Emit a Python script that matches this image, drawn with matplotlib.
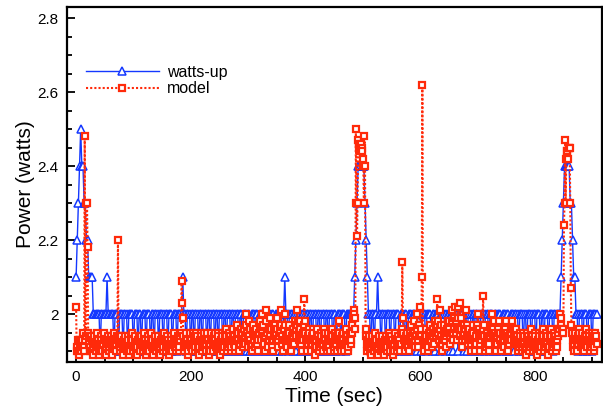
"""
Measured power (watts-up meter) against the power model over a run.
"""

import numpy as np
import matplotlib
matplotlib.use("Agg")
import matplotlib.pyplot as plt
from matplotlib.ticker import MultipleLocator, FormatStrFormatter

plt.rcParams['font.family'] = ['Liberation Sans', 'DejaVu Sans']

# sample spacing (sec)
meter_step = 2
model_step = 1

# watts-up meter reading (watts), one value every 2 sec from t=0
watts_up = [
    2.1, 2.2, 2.3, 2.4, 2.5, 2.4, 2.4, 2.3, 2.3, 2.2, 2.2, 2.1, 2.1, 2.1, 2.1, 2.0, 2.0, 2.0, 2.0, 2.0,
    2.0, 1.9, 2.0, 2.0, 2.0, 2.0, 2.0, 2.1, 2.0, 2.0, 2.0, 2.0, 2.0, 1.9, 2.0, 2.0, 2.0, 1.9, 2.0, 2.0,
    2.0, 1.9, 2.0, 2.0, 2.0, 1.9, 2.0, 2.0, 2.0, 2.0, 1.9, 2.0, 2.0, 2.0, 1.9, 2.0, 2.0, 1.9, 2.0, 2.0,
    2.0, 1.9, 2.0, 2.0, 2.0, 1.9, 2.0, 2.0, 1.9, 2.0, 2.0, 2.0, 1.9, 2.0, 2.0, 2.0, 1.9, 2.0, 2.0, 2.0,
    1.9, 2.0, 2.0, 2.0, 1.9, 2.0, 2.0, 2.0, 1.9, 2.0, 2.0, 2.0, 2.0, 2.1, 2.0, 2.0, 1.9, 2.0, 2.0, 2.0,
    1.9, 2.0, 2.0, 1.9, 2.0, 2.0, 2.0, 1.9, 2.0, 2.0, 1.9, 2.0, 2.0, 2.0, 1.9, 2.0, 2.0, 1.9, 2.0, 2.0,
    2.0, 1.9, 2.0, 2.0, 1.9, 2.0, 2.0, 2.0, 1.9, 2.0, 2.0, 1.9, 2.0, 2.0, 2.0, 1.9, 2.0, 2.0, 1.9, 2.0,
    2.0, 2.0, 1.9, 2.0, 2.0, 1.9, 2.0, 2.0, 2.0, 1.9, 2.0, 2.0, 1.9, 2.0, 2.0, 2.0, 1.9, 2.0, 2.0, 1.9,
    2.0, 2.0, 2.0, 1.9, 2.0, 2.0, 1.9, 2.0, 2.0, 2.0, 1.9, 2.0, 2.0, 1.9, 2.0, 2.0, 2.0, 1.9, 2.0, 2.0,
    1.9, 2.0, 2.1, 2.0, 2.0, 1.9, 2.0, 2.0, 2.0, 1.9, 2.0, 2.0, 1.9, 2.0, 2.0, 2.0, 1.9, 2.0, 2.0, 1.9,
    2.0, 2.0, 2.0, 1.9, 2.0, 2.0, 1.9, 2.0, 2.0, 2.0, 1.9, 2.0, 2.0, 1.9, 2.0, 2.0, 2.0, 1.9, 2.0, 2.0,
    1.9, 2.0, 2.0, 2.0, 1.9, 2.0, 2.0, 1.9, 2.0, 2.0, 2.0, 1.9, 2.0, 2.0, 2.0, 1.9, 2.0, 2.0, 2.0, 2.0,
    2.0, 2.0, 2.0, 2.1, 2.2, 2.3, 2.4, 2.4, 2.4, 2.4, 2.4, 2.4, 2.3, 2.2, 2.1, 2.0, 2.0, 1.9, 2.0, 2.0,
    1.9, 2.0, 2.0, 2.1, 2.0, 2.0, 1.9, 2.0, 2.0, 2.0, 1.9, 2.0, 2.0, 2.0, 1.9, 2.0, 2.0, 2.0, 1.9, 2.0,
    2.0, 2.0, 1.9, 2.0, 2.0, 2.0, 1.9, 2.0, 2.0, 1.9, 2.0, 2.0, 2.0, 1.9, 2.0, 2.0, 2.0, 1.9, 2.0, 2.0,
    2.0, 1.9, 2.0, 2.0, 2.0, 1.9, 2.0, 2.0, 2.0, 2.0, 1.9, 2.0, 2.0, 1.9, 2.0, 2.0, 2.0, 1.9, 2.0, 2.0,
    2.0, 2.0, 1.9, 2.0, 2.0, 2.0, 1.9, 2.0, 2.0, 1.9, 2.0, 2.0, 2.0, 1.9, 2.0, 2.0, 2.0, 2.0, 1.9, 2.0,
    2.0, 1.9, 2.0, 2.0, 2.0, 1.9, 2.0, 2.0, 1.9, 2.0, 2.0, 2.0, 1.9, 2.0, 2.0, 2.0, 1.9, 2.0, 2.0, 2.0,
    1.9, 2.0, 2.0, 2.0, 1.9, 2.0, 2.0, 1.9, 2.0, 2.0, 2.0, 1.9, 2.0, 2.0, 2.0, 1.9, 2.0, 2.0, 1.9, 2.0,
    2.0, 2.0, 1.9, 2.0, 2.0, 2.0, 1.9, 2.0, 2.0, 2.0, 1.9, 2.0, 2.0, 1.9, 2.0, 2.0, 2.0, 1.9, 2.0, 2.0,
    2.0, 1.9, 2.0, 2.0, 2.0, 1.9, 2.0, 2.0, 1.9, 2.0, 2.0, 2.0, 1.9, 2.0, 2.0, 2.0, 1.9, 2.0, 2.0, 2.0,
    2.0, 2.0, 2.0, 2.1, 2.2, 2.3, 2.4, 2.4, 2.4, 2.4, 2.4, 2.3, 2.3, 2.2, 2.1, 2.1, 2.0, 2.0, 1.9, 2.0,
    2.0, 2.0, 1.9, 2.0, 2.0, 2.0, 1.9, 2.0, 2.0, 2.0, 1.9, 2.0, 2.0, 2.0, 2.0,
]

# model estimate (watts), one value every second from t=0
model = [
    # 0-29
    2.02, 1.90, 1.91, 1.93, 1.90, 1.89, 1.91, 1.93, 1.92, 1.90, 1.91, 1.93, 1.95, 1.91, 1.90,
    2.48, 1.93, 1.94, 2.30, 2.30, 2.18, 1.95, 1.94, 1.92, 1.90, 1.91, 1.94, 1.93, 1.90, 1.89,
    # 30-59
    1.91, 1.93, 1.94, 1.92, 1.90, 1.91, 1.93, 1.95, 1.93, 1.91, 1.89, 1.90, 1.92, 1.94, 1.93,
    1.91, 1.90, 1.92, 1.94, 1.95, 1.93, 1.90, 1.89, 1.91, 1.93, 1.94, 1.92, 1.90, 1.91, 1.93,
    # 60-89
    1.94, 1.92, 1.90, 1.89, 1.91, 1.93, 1.95, 1.93, 1.91, 1.90, 1.92, 1.94, 1.93, 2.20, 1.94,
    1.92, 1.90, 1.91, 1.93, 1.94, 1.92, 1.90, 1.89, 1.91, 1.93, 1.94, 1.92, 1.91, 1.90, 1.92,
    # 90-119
    1.94, 1.93, 1.91, 1.89, 1.90, 1.92, 1.94, 1.95, 1.93, 1.91, 1.90, 1.91, 1.93, 1.94, 1.92,
    1.90, 1.89, 1.91, 1.93, 1.94, 1.93, 1.91, 1.90, 1.92, 1.94, 1.92, 1.90, 1.91, 1.93, 1.95,
    # 120-149
    1.93, 1.91, 1.89, 1.90, 1.92, 1.94, 1.93, 1.91, 1.90, 1.92, 1.94, 1.95, 1.93, 1.91, 1.90,
    1.89, 1.91, 1.93, 1.94, 1.92, 1.90, 1.91, 1.93, 1.94, 1.92, 1.90, 1.89, 1.91, 1.93, 1.94,
    # 150-179
    1.92, 1.90, 1.91, 1.93, 1.95, 1.93, 1.91, 1.90, 1.92, 1.94, 1.93, 1.91, 1.89, 1.90, 1.92,
    1.94, 1.93, 1.91, 1.90, 1.92, 1.94, 1.95, 1.93, 1.91, 1.90, 1.91, 1.93, 1.94, 1.92, 1.90,
    # 180-209
    1.91, 1.93, 1.94, 1.95, 2.09, 2.03, 1.99, 1.94, 1.92, 1.90, 1.91, 1.93, 1.95, 1.93, 1.91,
    1.89, 1.90, 1.92, 1.94, 1.95, 1.93, 1.91, 1.90, 1.92, 1.95, 1.94, 1.92, 1.90, 1.91, 1.93,
    # 210-239
    1.95, 1.94, 1.92, 1.90, 1.89, 1.91, 1.93, 1.95, 1.94, 1.92, 1.90, 1.91, 1.93, 1.95, 1.93,
    1.91, 1.90, 1.92, 1.94, 1.95, 1.93, 1.91, 1.89, 1.90, 1.92, 1.94, 1.95, 1.93, 1.91, 1.90,
    # 240-269
    1.92, 1.94, 1.95, 1.93, 1.91, 1.90, 1.92, 1.95, 1.94, 1.92, 1.90, 1.89, 1.91, 1.93, 1.95,
    1.94, 1.92, 1.90, 1.91, 1.93, 1.95, 1.96, 1.94, 1.92, 1.90, 1.91, 1.93, 1.95, 1.94, 1.92,
    # 270-299
    1.90, 1.91, 1.93, 1.95, 1.96, 1.94, 1.92, 1.90, 1.91, 1.93, 1.95, 1.97, 1.95, 1.93, 1.91,
    1.90, 1.92, 1.94, 1.96, 1.95, 1.93, 1.91, 1.93, 1.96, 1.94, 1.92, 2.00, 1.97, 1.95, 1.93,
    # 300-329
    1.91, 1.94, 1.98, 1.96, 1.93, 1.91, 1.90, 1.92, 1.95, 1.97, 1.95, 1.93, 1.91, 1.94, 1.96,
    1.94, 1.92, 1.90, 1.93, 1.95, 1.97, 1.98, 1.96, 1.93, 1.95, 2.00, 1.97, 1.94, 1.92, 1.90,
    # 330-359
    1.94, 2.01, 1.98, 1.95, 1.92, 1.91, 1.93, 1.96, 1.94, 1.99, 1.96, 1.93, 1.91, 1.90, 1.93,
    1.96, 1.94, 1.97, 1.95, 1.93, 1.99, 1.96, 1.93, 1.91, 1.94, 1.97, 1.95, 2.01, 1.97, 1.94,
    # 360-389
    1.92, 1.90, 1.93, 1.96, 2.00, 1.97, 1.94, 1.92, 1.91, 1.93, 1.95, 1.97, 1.95, 1.93, 1.91,
    1.90, 1.92, 1.94, 1.96, 1.94, 1.92, 1.95, 1.98, 1.96, 1.94, 1.97, 2.01, 1.98, 1.95, 1.93,
    # 390-419
    1.98, 1.96, 1.94, 1.92, 1.90, 1.93, 1.95, 1.97, 2.04, 1.98, 1.95, 1.93, 1.91, 1.90, 1.92,
    1.94, 1.96, 1.95, 1.93, 1.91, 1.90, 1.92, 1.94, 1.96, 1.95, 1.93, 1.91, 1.89, 1.91, 1.93,
    # 420-449
    1.95, 1.96, 1.94, 1.92, 1.90, 1.91, 1.93, 1.95, 1.94, 1.92, 1.90, 1.92, 1.94, 1.96, 1.95,
    1.93, 1.91, 1.90, 1.92, 1.94, 1.95, 1.93, 1.91, 1.90, 1.93, 1.95, 1.96, 1.94, 1.92, 1.90,
    # 450-479
    1.91, 1.93, 1.95, 1.94, 1.92, 1.90, 1.93, 1.95, 1.98, 1.95, 1.93, 1.91, 1.90, 1.92, 1.94,
    1.95, 1.93, 1.91, 1.90, 1.92, 1.94, 1.96, 1.94, 1.92, 1.90, 1.91, 1.93, 1.95, 1.94, 1.92,
    # 480-509
    1.93, 1.95, 1.97, 1.99, 2.01, 2.00, 1.99, 1.96, 2.50, 2.30, 2.21, 2.30, 2.47, 2.45, 2.46,
    2.44, 2.45, 2.46, 2.45, 2.44, 2.42, 2.40, 2.30, 2.48, 2.40, 1.96, 1.94, 1.92, 1.90, 1.91,
    # 510-539
    1.93, 1.94, 1.92, 1.90, 1.89, 1.91, 1.93, 1.94, 1.92, 1.90, 1.91, 1.93, 1.95, 1.93, 1.91,
    1.90, 1.89, 1.91, 1.93, 1.94, 1.92, 1.90, 1.91, 1.93, 1.94, 1.92, 1.90, 1.89, 1.91, 1.93,
    # 540-569
    1.94, 1.92, 1.90, 1.91, 1.93, 1.95, 1.93, 1.91, 1.90, 1.92, 1.94, 1.93, 1.91, 1.89, 1.90,
    1.92, 1.94, 1.95, 1.93, 1.91, 1.90, 1.92, 1.94, 1.93, 1.91, 1.90, 1.92, 1.95, 1.96, 2.14,
    # 570-599
    1.99, 1.95, 1.93, 1.91, 1.90, 1.92, 1.94, 1.95, 1.93, 1.91, 1.90, 1.93, 1.95, 1.94, 1.92,
    1.97, 1.94, 1.92, 1.95, 1.98, 1.95, 1.93, 1.91, 1.94, 2.00, 1.96, 1.93, 1.91, 1.94, 1.97,
    # 600-629
    2.02, 1.96, 1.94, 2.10, 2.62, 1.93, 1.91, 1.90, 1.92, 1.94, 1.96, 1.94, 1.92, 1.90, 1.91,
    1.93, 1.95, 1.97, 1.95, 1.93, 1.91, 1.94, 1.96, 1.94, 1.92, 1.95, 1.98, 1.96, 1.94, 1.97,
    # 630-659
    2.04, 1.98, 1.95, 1.93, 1.96, 2.01, 1.97, 1.94, 1.92, 1.90, 1.93, 1.95, 1.97, 1.95, 1.93,
    1.91, 1.94, 1.96, 1.98, 1.95, 1.98, 1.96, 1.94, 1.92, 1.95, 2.01, 1.98, 1.95, 1.93, 1.96,
    # 660-689
    1.99, 2.02, 1.98, 1.95, 1.93, 1.96, 2.02, 1.99, 1.96, 1.94, 2.03, 1.99, 1.96, 1.93, 1.91,
    1.94, 1.97, 1.95, 1.93, 1.96, 2.01, 1.97, 1.94, 1.92, 1.95, 1.93, 1.96, 1.94, 1.92, 1.90,
    # 690-719
    1.93, 1.95, 1.97, 1.95, 1.93, 1.91, 1.90, 1.92, 1.94, 1.96, 1.97, 2.00, 1.96, 1.94, 1.92,
    1.90, 1.93, 1.95, 1.94, 1.96, 2.05, 1.97, 1.94, 1.92, 1.90, 1.91, 1.93, 1.95, 1.94, 1.92,
    # 720-749
    1.90, 1.92, 1.94, 1.96, 1.95, 1.97, 2.00, 1.96, 1.94, 1.98, 1.95, 1.93, 1.91, 1.90, 1.92,
    1.94, 1.96, 1.95, 1.98, 1.95, 1.93, 1.91, 1.90, 1.92, 1.94, 1.95, 1.93, 1.91, 1.94, 1.96,
    # 750-779
    1.98, 1.95, 1.93, 1.91, 1.90, 1.92, 1.94, 1.95, 1.93, 1.95, 1.97, 1.98, 1.96, 1.94, 1.92,
    1.96, 1.94, 1.92, 1.96, 1.94, 1.92, 1.90, 1.91, 1.93, 1.95, 1.94, 1.92, 1.90, 1.91, 1.93,
    # 780-809
    1.95, 1.94, 1.92, 1.90, 1.89, 1.91, 1.93, 1.95, 1.94, 1.92, 1.90, 1.91, 1.93, 1.95, 1.96,
    1.94, 1.92, 1.90, 1.91, 1.93, 1.95, 1.94, 1.92, 1.90, 1.89, 1.91, 1.93, 1.95, 1.94, 1.92,
    # 810-839
    1.90, 1.91, 1.93, 1.95, 1.96, 1.94, 1.92, 1.90, 1.91, 1.93, 1.95, 1.94, 1.92, 1.90, 1.89,
    1.91, 1.93, 1.95, 1.96, 1.94, 1.92, 1.90, 1.91, 1.93, 1.95, 1.94, 1.92, 1.90, 1.91, 1.93,
    # 840-869
    1.94, 1.95, 1.96, 1.96, 2.00, 1.99, 1.97, 1.96, 1.95, 1.96, 1.95, 2.24, 2.30, 2.47, 2.30,
    2.42, 2.44, 2.44, 2.42, 2.45, 2.45, 2.45, 2.30, 2.07, 1.97, 1.95, 1.93, 1.91, 1.90, 1.92,
    # 870-899
    1.94, 1.95, 1.93, 1.91, 1.90, 1.92, 1.94, 1.96, 1.95, 1.93, 1.91, 1.92, 1.94, 1.95, 1.93,
    1.91, 1.90, 1.92, 1.94, 1.96, 1.94, 1.92, 1.91, 1.93, 1.95, 1.94, 1.92, 1.90, 1.91, 1.93,
    # 900-908
    1.95, 1.94, 1.92, 1.90, 1.91, 1.93, 1.95, 1.94, 1.92,
]

time_meter = np.arange(len(watts_up)) * meter_step
time_model = np.arange(len(model)) * model_step

fig = plt.figure(figsize=(6.03, 4.13), dpi=100)
ax = fig.add_axes([0.111, 0.124, 0.887, 0.859])

# meter first, model drawn over it
ax.plot(time_meter, watts_up, color="#1438ff", lw=1.0, marker="^", ms=5.4,
        mfc="white", mec="#1438ff", mew=1.1, label="watts-up")
ax.plot(time_model, model, color="#ff2a0a", lw=1.5, ls=(0, (1, 1)), marker="s", ms=4.2,
        mfc="white", mec="#ff2a0a", mew=1.6, label="model")

ax.set_xlim(-16, 917)
ax.set_ylim(1.871, 2.83)

ax.xaxis.set_major_locator(MultipleLocator(200))
ax.xaxis.set_minor_locator(MultipleLocator(50))
ax.yaxis.set_major_locator(MultipleLocator(0.2))
ax.yaxis.set_minor_locator(MultipleLocator(0.05))
ax.yaxis.set_major_formatter(FormatStrFormatter("%g"))

ax.tick_params(which="both", direction="in", top=False, right=False, width=1.3)
ax.tick_params(which="major", length=6, labelsize=11, pad=6)
ax.tick_params(which="minor", length=3.5)
for s in ax.spines.values():
    s.set_linewidth(1.6)

ax.set_xlabel("Time (sec)", fontsize=15, labelpad=2)
ax.set_ylabel("Power (watts)", fontsize=15, labelpad=2)

ax.legend(loc="upper left", bbox_to_anchor=(0.023, 0.855), frameon=False,
          fontsize=11.5, handlelength=4.6, handletextpad=0.5, labelspacing=0.1,
          borderaxespad=0)

fig.savefig("out.png", dpi=100)
